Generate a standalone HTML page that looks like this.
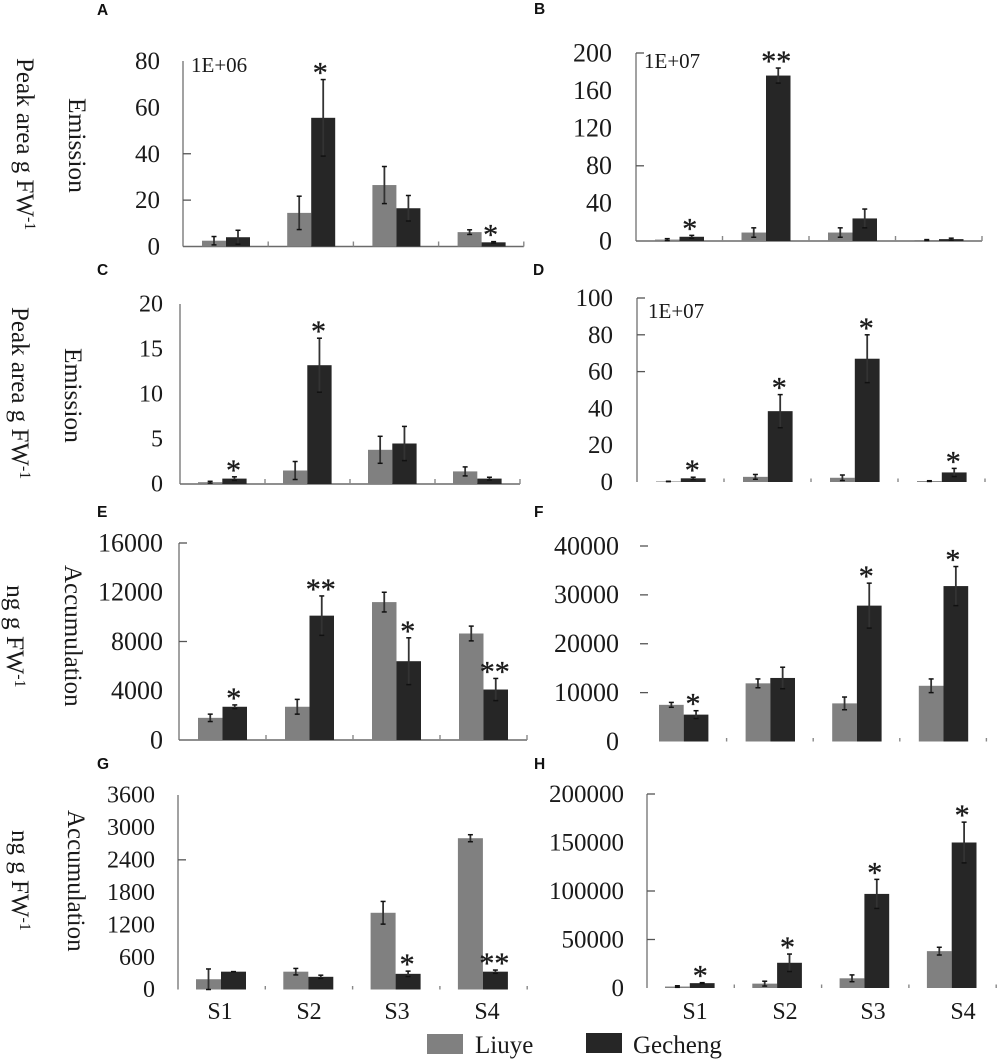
<!DOCTYPE html>
<html lang="en">
<head>
<meta charset="utf-8">
<title>Emission and accumulation bar charts</title>
<style>
html,body{margin:0;padding:0;background:#fff;}
#figure{display:block;width:1000px;height:1060px;filter:blur(0.35px);}
text{font-family:"Liberation Serif",serif;fill:#1a1a1a;}
.letter{font-family:"Liberation Sans",sans-serif;font-weight:bold;font-size:15.5px;fill:#111;}
</style>
</head>
<body>
<svg id="figure" xmlns="http://www.w3.org/2000/svg" width="1000" height="1060" viewBox="0 0 1000 1060">
<g id="titles">
<text transform="rotate(90 17 58)" x="17" y="58" font-size="25">Peak area g FW<tspan font-size="16" dy="-8">-1</tspan></text>
<text transform="rotate(90 69 98)" x="69" y="98" font-size="25.5">Emission</text>
<text transform="rotate(90 12 307)" x="12" y="307" font-size="25">Peak area g FW<tspan font-size="16" dy="-8">-1</tspan></text>
<text transform="rotate(90 65 348)" x="65" y="348" font-size="25.5">Emission</text>
<text transform="rotate(90 7 585)" x="7" y="585" font-size="25.5">ng g FW<tspan font-size="16" dy="-8">-1</tspan></text>
<text transform="rotate(90 65 565)" x="65" y="565" font-size="25">Accumulation</text>
<text transform="rotate(90 12 830)" x="12" y="830" font-size="25">ng g FW<tspan font-size="16" dy="-8">-1</tspan></text>
<text transform="rotate(90 68 810)" x="68" y="810" font-size="25">Accumulation</text>
</g>
<g id="legend">
<rect x="427" y="1034" width="36" height="20" fill="#808080"/>
<text x="475" y="1053" font-size="25">Liuye</text>
<rect x="586" y="1033" width="36" height="20" fill="#262626"/>
<text x="633" y="1053" font-size="25">Gecheng</text>
</g>
</svg>
<script>
const categories = ['S1', 'S2', 'S3', 'S4'];

const aTicks = [0, 20, 40, 60, 80];
const aLiuye = [2.5, 14.5, 26.5, 6.2];
const aGecheng = [4, 55.5, 16.5, 1.8];
const aLiuyeErr = [1.8, 7.2, 8, 1];
const aGechengErr = [3, 16.5, 5.5, 0.3];
const aStars = ['', '*', '', '*'];

const bTicks = [0, 40, 80, 120, 160, 200];
const bLiuye = [1.5, 9, 9, 1];
const bGecheng = [4.5, 176, 24, 2];
const bLiuyeErr = [1, 5, 5, 0.5];
const bGechengErr = [1.5, 8, 10, 1];
const bStars = ['*', '**', '', ''];

const cTicks = [0, 5, 10, 15, 20];
const cLiuye = [0.2, 1.5, 3.8, 1.4];
const cGecheng = [0.6, 13.2, 4.5, 0.6];
const cLiuyeErr = [0.1, 1, 1.5, 0.5];
const cGechengErr = [0.2, 3, 1.9, 0.15];
const cStars = ['*', '*', '', ''];

const dTicks = [0, 20, 40, 60, 80, 100];
const dLiuye = [0.3, 2.8, 2.3, 0.5];
const dGecheng = [2, 38.5, 67, 5.2];
const dLiuyeErr = [0.1, 1.3, 1.5, 0.2];
const dGechengErr = [0.6, 9, 13, 2.2];
const dStars = ['*', '*', '*', '*'];

const eTicks = [0, 4000, 8000, 12000, 16000];
const eLiuye = [1800, 2700, 11200, 8650];
const eGecheng = [2700, 10100, 6400, 4100];
const eLiuyeErr = [300, 600, 800, 600];
const eGechengErr = [150, 1600, 1900, 900];
const eStars = ['*', '**', '*', '**'];

const fTicks = [0, 10000, 20000, 30000, 40000];
const fLiuye = [7500, 11900, 7800, 11400];
const fGecheng = [5500, 13000, 27800, 31800];
const fLiuyeErr = [500, 900, 1300, 1400];
const fGechengErr = [800, 2200, 4600, 4000];
const fStars = ['*', '', '*', '*'];

const gTicks = [0, 600, 1200, 1800, 2400, 3000, 3600];
const gLiuye = [190, 330, 1420, 2800];
const gGecheng = [330, 235, 290, 330];
const gLiuyeErr = [190, 60, 210, 65];
const gGechengErr = [0, 30, 50, 30];
const gStars = ['', '', '*', '**'];

const hTicks = [0, 50000, 100000, 150000, 200000];
const hLiuye = [1500, 4500, 10000, 38000];
const hGecheng = [5000, 26000, 97000, 150000];
const hLiuyeErr = [800, 2500, 3500, 4000];
const hGechengErr = [500, 9000, 15000, 21000];
const hStars = ['*', '*', '*', '*'];

const panels = [
  {id:'a', letter:'A', lx:97, ly:15, ticks:aTicks, liuye:aLiuye, gecheng:aGecheng, le:aLiuyeErr, ge:aGechengErr, stars:aStars,
   axisX:183, y0:246.5, top:61, first:202, bw:24, step:85.2, labelX:160, font:25, marks:[20,40], yAxis:true, base:true, note:'1E+06', noteX:191, noteY:72, starShift:-3},
  {id:'b', letter:'B', lx:534, ly:14, ticks:bTicks, liuye:bLiuye, gecheng:bGecheng, le:bLiuyeErr, ge:bGechengErr, stars:bStars,
   axisX:636, y0:241, top:53, first:655, bw:24.5, step:86.5, labelX:612, font:26, marks:[80,200], yAxis:true, base:true, note:'1E+07', noteX:644, noteY:68, starShift:-2},
  {id:'c', letter:'C', lx:97, ly:275, ticks:cTicks, liuye:cLiuye, gecheng:cGecheng, le:cLiuyeErr, ge:cGechengErr, stars:cStars,
   axisX:180, y0:484, top:304, first:198, bw:24.3, step:85, labelX:163, font:24, marks:[], yAxis:true, base:true, starShift:-1},
  {id:'d', letter:'D', lx:533, ly:275, ticks:dTicks, liuye:dLiuye, gecheng:dGecheng, le:dLiuyeErr, ge:dGechengErr, stars:dStars,
   axisX:637, y0:482, top:298, first:656, bw:24.8, step:87, labelX:613, font:25, marks:[60,80,100], yAxis:true, base:false, note:'1E+07', noteX:648, noteY:318, starShift:-1},
  {id:'e', letter:'E', lx:97, ly:517, ticks:eTicks, liuye:eLiuye, gecheng:eGecheng, le:eLiuyeErr, ge:eGechengErr, stars:eStars,
   axisX:179, y0:740, top:543, first:198, bw:24.5, step:87, labelX:163, font:26, marks:[8000,16000], yAxis:true, base:true, starShift:-1},
  {id:'f', letter:'F', lx:534, ly:517, ticks:fTicks, liuye:fLiuye, gecheng:fGecheng, le:fLiuyeErr, ge:fGechengErr, stars:fStars,
   axisX:640, y0:741.5, top:546, first:659, bw:24.7, step:86.6, labelX:619, font:26, marks:[10000,20000,30000,40000], yAxis:false, base:false, starShift:-3},
  {id:'g', letter:'G', lx:97, ly:769, ticks:gTicks, liuye:gLiuye, gecheng:gGecheng, le:gLiuyeErr, ge:gGechengErr, stars:gStars,
   axisX:178, y0:989.5, top:795, first:196, bw:25, step:87.3, labelX:155, font:24, marks:[2400], yAxis:true, base:false, xLabels:[220,309,397,487], starShift:-1},
  {id:'h', letter:'H', lx:534, ly:769, ticks:hTicks, liuye:hLiuye, gecheng:hGecheng, le:hLiuyeErr, ge:hGechengErr, stars:hStars,
   axisX:647, y0:988, top:794, first:665, bw:24.8, step:87.3, labelX:624, font:25, marks:[50000,100000,200000], yAxis:true, base:false, xLabels:[695,785,873,963], starShift:-2}
];

const svg = document.getElementById('figure');
const NS = 'http://www.w3.org/2000/svg';

function make(parent, tag, attrs, text) {
  const el = document.createElementNS(NS, tag);
  for (const k in attrs) el.setAttribute(k, attrs[k]);
  if (text !== undefined) el.textContent = text;
  parent.appendChild(el);
  return el;
}

function drawErrorBar(group, x, yLow, yHigh, name) {
  const err = make(group, 'g', {stroke:'#111', 'stroke-width':1.5});
  
  
  make(err, 'line', {x1:x, x2:x, y1:yLow, y2:yHigh, stroke:'#333', 'stroke-width':1.8});
  make(err, 'line', {x1:x-2.5, x2:x+2.5, y1:yLow, y2:yLow});
  make(err, 'line', {x1:x-2.5, x2:x+2.5, y1:yHigh, y2:yHigh});
}

panels.forEach(function (p) {
  const maxTick = p.ticks[p.ticks.length - 1];
  const yScale = function (v) { return p.y0 - (v / maxTick) * (p.y0 - p.top); };
  const group = make(svg, 'g', {});
  
  

  const letter = make(group, 'text', {x:p.lx, y:p.ly, class:'letter'}, p.letter);
  
  

  if (p.yAxis) {
    const yAxis = make(group, 'line', {x1:p.axisX, x2:p.axisX, y1:p.top, y2:p.y0, stroke:'#8a8a8a', 'stroke-width':1.6});
    
    
  }
  if (p.base) {
    const xAxis = make(group, 'line', {x1:p.axisX, x2:p.axisX + p.step * 4, y1:p.y0, y2:p.y0, stroke:'#6a6a6a', 'stroke-width':1.5});
    
    
  }

  p.ticks.forEach(function (t) {
    const y = yScale(t);
    const label = make(group, 'text', {x:p.labelX, y:y + p.font * 0.32, 'text-anchor':'end', 'font-size':p.font}, String(t));
    
    
  });

  p.marks.forEach(function (t) {
    const y = yScale(t);
    const mark = make(group, 'line', {x1:p.axisX, x2:p.axisX + 8, y1:y, y2:y, stroke:'#555', 'stroke-width':1.3});
    
    
  });

  categories.forEach(function (cat, i) {
    const x0 = p.first + i * p.step;
    const xMid = x0 + p.bw;
    const tickX = p.axisX + (i + 1) * p.step;
    const xTick = make(group, 'line', {x1:tickX, x2:tickX, y1:p.y0 - (p.base ? 5 : 3.5), y2:p.y0, stroke:'#888', 'stroke-width':1.4});
    
    

    const yL = yScale(p.liuye[i]);
    const barL = make(group, 'rect', {x:x0, y:yL, width:p.bw, height:p.y0 - yL, fill:'#808080'});
    
    

    const yG = yScale(p.gecheng[i]);
    const barG = make(group, 'rect', {x:xMid, y:yG, width:p.bw, height:p.y0 - yG, fill:'#262626'});
    
    

    drawErrorBar(group, x0 + p.bw / 2, yScale(p.liuye[i] - p.le[i]), yScale(p.liuye[i] + p.le[i]), 'error-bar-liuye-' + p.id + '-' + cat);
    drawErrorBar(group, xMid + p.bw / 2, yScale(p.gecheng[i] - p.ge[i]), yScale(p.gecheng[i] + p.ge[i]), 'error-bar-gecheng-' + p.id + '-' + cat);

    if (p.stars[i]) {
      const star = make(group, 'text', {x:xMid + p.bw / 2 + p.starShift, y:yScale(p.gecheng[i] + p.ge[i]) + 3, 'text-anchor':'middle', 'font-size':30, stroke:'#1a1a1a', 'stroke-width':0.35}, p.stars[i]);
      
      
    }

    if (p.xLabels) {
      const xLabel = make(group, 'text', {x:p.xLabels[i], y:1019, 'text-anchor':'middle', 'font-size':24}, cat);
      
      
    }
  });

  if (p.note) {
    const note = make(group, 'text', {x:p.noteX, y:p.noteY, 'font-size':21}, p.note);
    
    
  }
});
</script>
</body>
</html>
